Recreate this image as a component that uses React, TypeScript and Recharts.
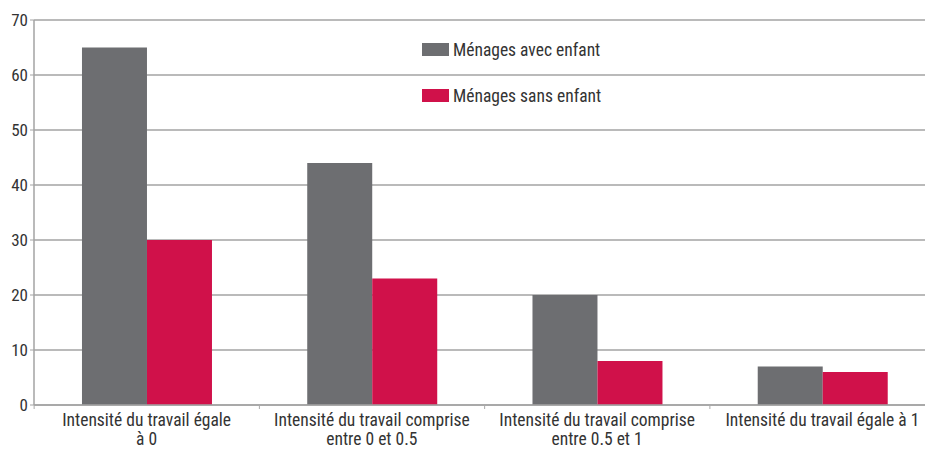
import { BarChart, Bar, XAxis, YAxis, CartesianGrid } from "recharts";

const categories = [
  "Intensité du travail égale\nà 0",
  "Intensité du travail comprise\nentre 0 et 0.5",
  "Intensité du travail comprise\nentre 0.5 et 1",
  "Intensité du travail égale à 1",
];
const avecEnfant = [65, 44, 20, 7];
const sansEnfant = [30, 23, 8, 6];
const yTicks = [0, 10, 20, 30, 40, 50, 60, 70];

const data = categories.map((c, i) => ({
  cat: c,
  avec: avecEnfant[i],
  sans: sansEnfant[i],
}));

const FONT = "'Liberation Sans Narrow', 'Arial Narrow', 'Roboto Condensed', sans-serif";
const GREY = "#6d6e71";
const RED = "#d0114a";

function CatTick(props: any) {
  const { x, y, payload } = props;
  const lines = String(payload.value).split("\n");
  return (
    <g>
      <line x1={x - 112.5} x2={x - 112.5} y1={y - 8} y2={y - 4} stroke="#aaa" />
      <text
        x={x}
        y={y + 13}
        textAnchor="middle"
        fontFamily={FONT}
        fontSize={17.5}
        fill="#333"
      >
        {lines.map((l, i) => (
          <tspan key={i} x={x} dy={i === 0 ? 0 : 19}>
            {l}
          </tspan>
        ))}
      </text>
    </g>
  );
}

function LegendBox() {
  const items = [
    { label: "Ménages avec enfant", color: GREY },
    { label: "Ménages sans enfant", color: RED },
  ];
  return (
    <div
      style={{
        position: "absolute",
        left: 422,
        top: 39.5,
        fontFamily: FONT,
        fontSize: 17.5,
        color: "#333",
      }}
    >
      {items.map((it) => (
        <div
          key={it.label}
          style={{ display: "flex", alignItems: "center", height: 20, marginBottom: 26, whiteSpace: "nowrap" }}
        >
          <span
            style={{ width: 27, height: 13, background: it.color, marginRight: 4, display: "inline-block" }}
          />
          {it.label}
        </div>
      ))}
    </div>
  );
}

export default function App() {
  return (
    <div
      style={{
        position: "absolute",
        left: 0,
        top: 0,
        width: 925,
        height: 449,
        overflow: "hidden",
        background: "#fff",
      }}
    >
      <BarChart
        width={935}
        height={449}
        data={data}
        margin={{ top: 20, right: 0, bottom: 0, left: 0 }}
        barCategoryGap="21.3%"
        barGap={0}
      >
        <CartesianGrid vertical={false} stroke="#a3a3a3" strokeWidth={1.5} />
        <XAxis
          dataKey="cat"
          height={44}
          axisLine={{ stroke: "#a3a3a3", strokeWidth: 1.5 }}
          tickLine={false}
          tick={<CatTick />}
          interval={0}
        />
        <YAxis
          width={34}
          domain={[0, 70]}
          ticks={yTicks}
          interval={0}
          axisLine={{ stroke: "#a3a3a3", strokeWidth: 1.5 }}
          tickLine={{ stroke: "#a3a3a3" }}
          tickSize={4}
          tick={{ fontFamily: FONT, fontSize: 17, fill: "#333" }}
        />
        <Bar dataKey="avec" name="Ménages avec enfant" fill={GREY} isAnimationActive={false} />
        <Bar dataKey="sans" name="Ménages sans enfant" fill={RED} isAnimationActive={false} />
      </BarChart>
      <LegendBox />
    </div>
  );
}
